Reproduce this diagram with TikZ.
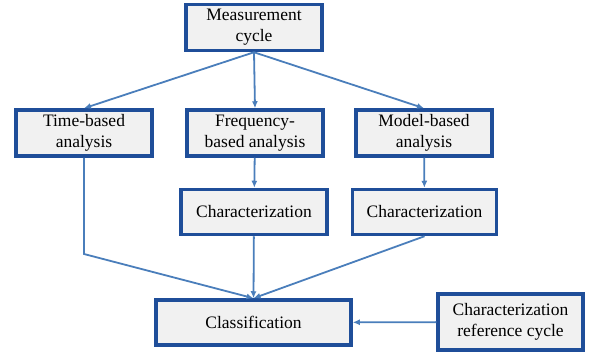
\documentclass[tikz,border=0pt]{standalone}
\usepackage{fontspec}
\setmainfont{Liberation Serif}
\newfontfamily\boxfont{Liberation Serif}
\usepackage{xcolor}
\usepackage{tikz}
\usetikzlibrary{arrows.meta}

\definecolor{boxborder}{HTML}{1F4E99}
\definecolor{boxfill}{HTML}{F1F1F1}
\definecolor{edgeblue}{HTML}{4A7EBB}

\begin{document}
\begin{tikzpicture}[x=1pt,y=-1pt]
				\tikzstyle{box}=[draw=boxborder, fill=boxfill, line width=3.5pt, align=center,
				                 inner sep=2pt, font=\boxfont\fontsize{17.5}{21}\selectfont]
				\tikzset{edge/.style = {-{Latex[length=7pt,width=6pt]}, draw=edgeblue, line width=1.8pt}}
				\useasboundingbox (0,0) rectangle (596,361);
				
				% measurement
				\node[box, minimum width=136pt, minimum height=46pt](meas) at (254,27.5) {Measurement\\cycle};
				
				% analyses
				\node[box, minimum width=136pt, minimum height=46pt](time)  at (84,133)  {Time-based\\analysis};
				\node[box, minimum width=136pt, minimum height=46pt](freq)  at (255,133) {Frequency-\\based analysis};
				\node[box, minimum width=136pt, minimum height=46pt](model) at (424,133) {Model-based\\analysis};
				\draw[edge](meas.south) to (time.north);
				\draw[edge](meas.south) to (freq.north);
				\draw[edge](meas.south) to (model.north);
				
				% characterizations
				\node[box, minimum width=146pt, minimum height=45pt](charA) at (254,212)   {Characterization};
				\node[box, minimum width=144pt, minimum height=45pt](charB) at (424.5,212) {Characterization};
				\draw[edge](freq)  to (charA);
				\draw[edge](model) to (charB);
				
				% classification + reference
				\node[box, minimum width=195pt, minimum height=45pt](class) at (253.5,322.5) {Classification};
				\node[box, minimum width=145pt, minimum height=56pt](ref)   at (510.5,322)   {Characterization\\reference cycle};
				\coordinate(bend) at (84,254);
				\draw[edge](time.south) -- (bend) -- (class.north);
				\draw[edge](charA) to (class.north);
				\draw[edge](charB.south) to (class.north);
				\draw[edge](ref) to (class);
			\end{tikzpicture}
\end{document}
